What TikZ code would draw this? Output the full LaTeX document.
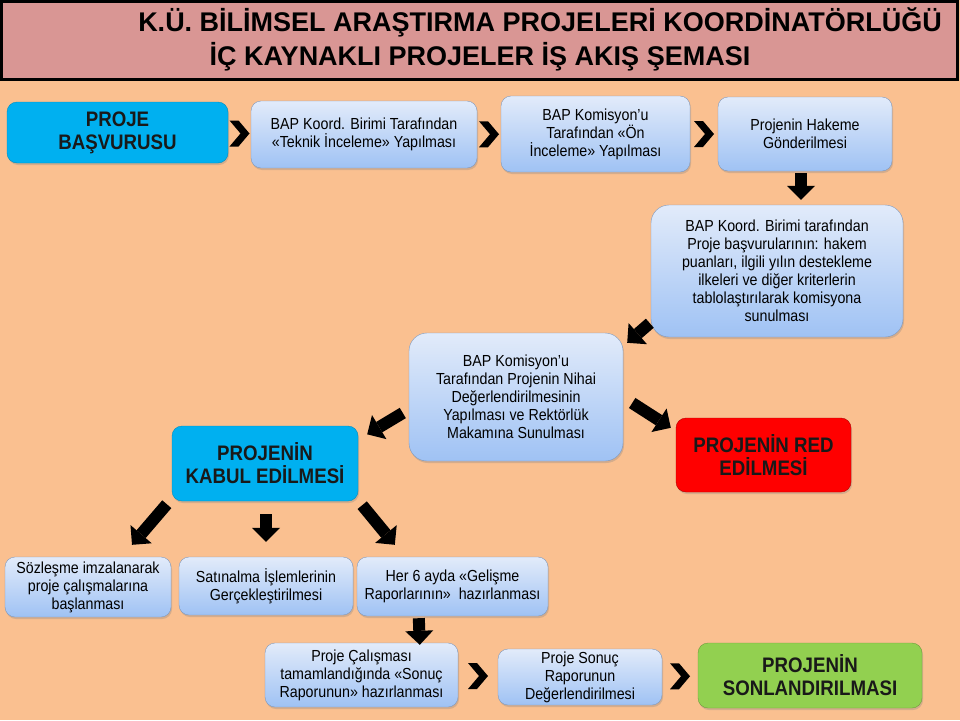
\documentclass[tikz,border=0pt]{standalone}
\usepackage{fontspec}
\setmainfont{Liberation Sans}
\newfontfamily\bodyfont{Liberation Sans}[FakeStretch=0.89]
\newfontfamily\titlefont{Liberation Sans}[FakeStretch=1.0]
\usetikzlibrary{arrows.meta,calc,shadows}
\definecolor{peach}{HTML}{FAC090}
\definecolor{rose}{HTML}{D99694}
\definecolor{boxtop}{HTML}{E2EBFA}
\definecolor{boxbot}{HTML}{9FC2F4}
\definecolor{boxline}{HTML}{7F98BC}
\definecolor{cyanbox}{HTML}{00B0F0}
\definecolor{greenbox}{HTML}{92D050}
\definecolor{redbox}{HTML}{FF0000}
\tikzset{
  box/.style={draw=boxline, rounded corners=10pt, top color=boxtop, bottom color=boxbot,
    align=center, inner sep=2pt, font=\bodyfont\fontsize{16}{18}\selectfont,
    drop shadow={shadow xshift=1pt, shadow yshift=-2pt, opacity=.3}},
  keybox/.style={rounded corners=10pt, align=center, inner sep=2pt, text=black!90,
    font=\bodyfont\bfseries\fontsize{21}{23}\selectfont,
    drop shadow={shadow xshift=1pt, shadow yshift=-2pt, opacity=.3}},
  blk/.style={line width=12pt, -{Triangle[length=14pt,width=28pt,line width=0pt]}},
}
\begin{document}
\begin{tikzpicture}[x=1pt,y=-1pt]
  \path[use as bounding box, fill=peach] (0,0) rectangle (960,720);
  \draw[line width=3pt, fill=rose] (1.5,1.5) rectangle (957.5,79.5);
  \node[font=\titlefont\bfseries\fontsize{27}{30}\selectfont] (titleA) at (540,22)
    {K.Ü. BİLİMSEL ARAŞTIRMA PROJELERİ KOORDİNATÖRLÜĞÜ};
  \node[font=\titlefont\bfseries\fontsize{27}{30}\selectfont] (titleB) at (480,57)
    {İÇ KAYNAKLI PROJELER İŞ AKIŞ ŞEMASI};

  \node[keybox, fill=cyanbox, draw=cyanbox!80!black, minimum width=221pt, minimum height=61pt]
    (basvuru) at (117.5,132.5) {PROJE\\BAŞVURUSU};
  \node[box, minimum width=226pt, minimum height=67pt] (teknik) at (364,134.5)
    {BAP Koord. Birimi Tarafından\\«Teknik İnceleme» Yapılması};
  \node[box, minimum width=189pt, minimum height=76pt] (onincele) at (595.5,134)
    {BAP Komisyon’u\\Tarafından «Ön\\İnceleme» Yapılması};
  \node[box, minimum width=174pt, minimum height=74pt] (hakem) at (805,134)
    {Projenin Hakeme\\Gönderilmesi};
  \node[box, rounded corners=18pt, minimum width=252pt, minimum height=132pt] (koord) at (777,271)
    {BAP Koord. Birimi tarafından\\Proje başvurularının: hakem\\puanları, ilgili yılın destekleme\\ilkeleri ve diğer kriterlerin\\tablolaştırılarak komisyona\\sunulması};
  \node[box, rounded corners=18pt, minimum width=214pt, minimum height=128pt] (nihai) at (516,397)
    {BAP Komisyon’u\\Tarafından Projenin Nihai\\Değerlendirilmesinin\\Yapılması ve Rektörlük\\Makamına Sunulması};
  \node[keybox, fill=cyanbox, draw=cyanbox!80!black, minimum width=186pt, minimum height=75pt]
    (kabul) at (265,463.5) {PROJENİN\\KABUL EDİLMESİ};
  \node[keybox, fill=redbox, draw=redbox!70!black, minimum width=175pt, minimum height=74pt]
    (red) at (763.5,455) {PROJENİN RED\\EDİLMESİ};
  \node[box, minimum width=166pt, minimum height=60pt] (sozlesme) at (88,587)
    {Sözleşme imzalanarak\\proje çalışmalarına\\başlanması};
  \node[box, minimum width=174pt, minimum height=58pt] (satin) at (266,586)
    {Satınalma İşlemlerinin\\Gerçekleştirilmesi};
  \node[box, minimum width=191pt, minimum height=59pt] (her) at (452.5,586.5)
    {Her 6 ayda «Gelişme\\Raporlarının»\ \ hazırlanması};
  \node[box, minimum width=193pt, minimum height=64pt] (calisma) at (361.5,675)
    {Proje Çalışması\\tamamlandığında «Sonuç\\Raporunun» hazırlanması};
  \node[box, minimum width=164pt, minimum height=56pt] (sonuc) at (580,677)
    {Proje Sonuç\\Raporunun\\Değerlendirilmesi};
  \node[keybox, fill=greenbox, draw=greenbox!75!black, minimum width=224pt, minimum height=65pt]
    (son) at (810,675.5) {PROJENİN\\SONLANDIRILMASI};

  \foreach \a/\b in {basvuru/teknik, teknik/onincele, onincele/hakem, calisma/sonuc, sonuc/son}
    \fill ($(\a.east)!.5!(\b.west)$) ++(-10,-13) -- ++(9,0) -- ++(11,13) -- ++(-11,13)
      -- ++(-9,0) -- ++(11,-13) -- cycle;

  \begin{scope}[blk]
    \draw ([shift={(-4,2)}]hakem.south) -- ([shift={(24,-5)}]koord.north);
    \draw ([shift={(-1,-14)}]koord.south west) -- ([shift={(4,10)}]nihai.north east);
    \draw ([shift={(-6,16)}]nihai.west) -- ([shift={(9,8.5)}]kabul.north east);
    \draw ([shift={(9,6)}]nihai.east) -- ([shift={(-5,10)}]red.north west);
    \draw ([shift={(-5,3)}]kabul.south west) -- ([shift={(44,-12)}]sozlesme.north);
    \draw ([shift={(1,13)}]kabul.south) -- ([shift={(0,-15)}]satin.north);
    \draw ([shift={(4,4)}]kabul.south east) -- ([shift={(38,-12)}]her.north west);
    \draw ([shift={(62,2)}]her.south west) -- ([shift={(155,2)}]calisma.north west);
  \end{scope}
\end{tikzpicture}
\end{document}
